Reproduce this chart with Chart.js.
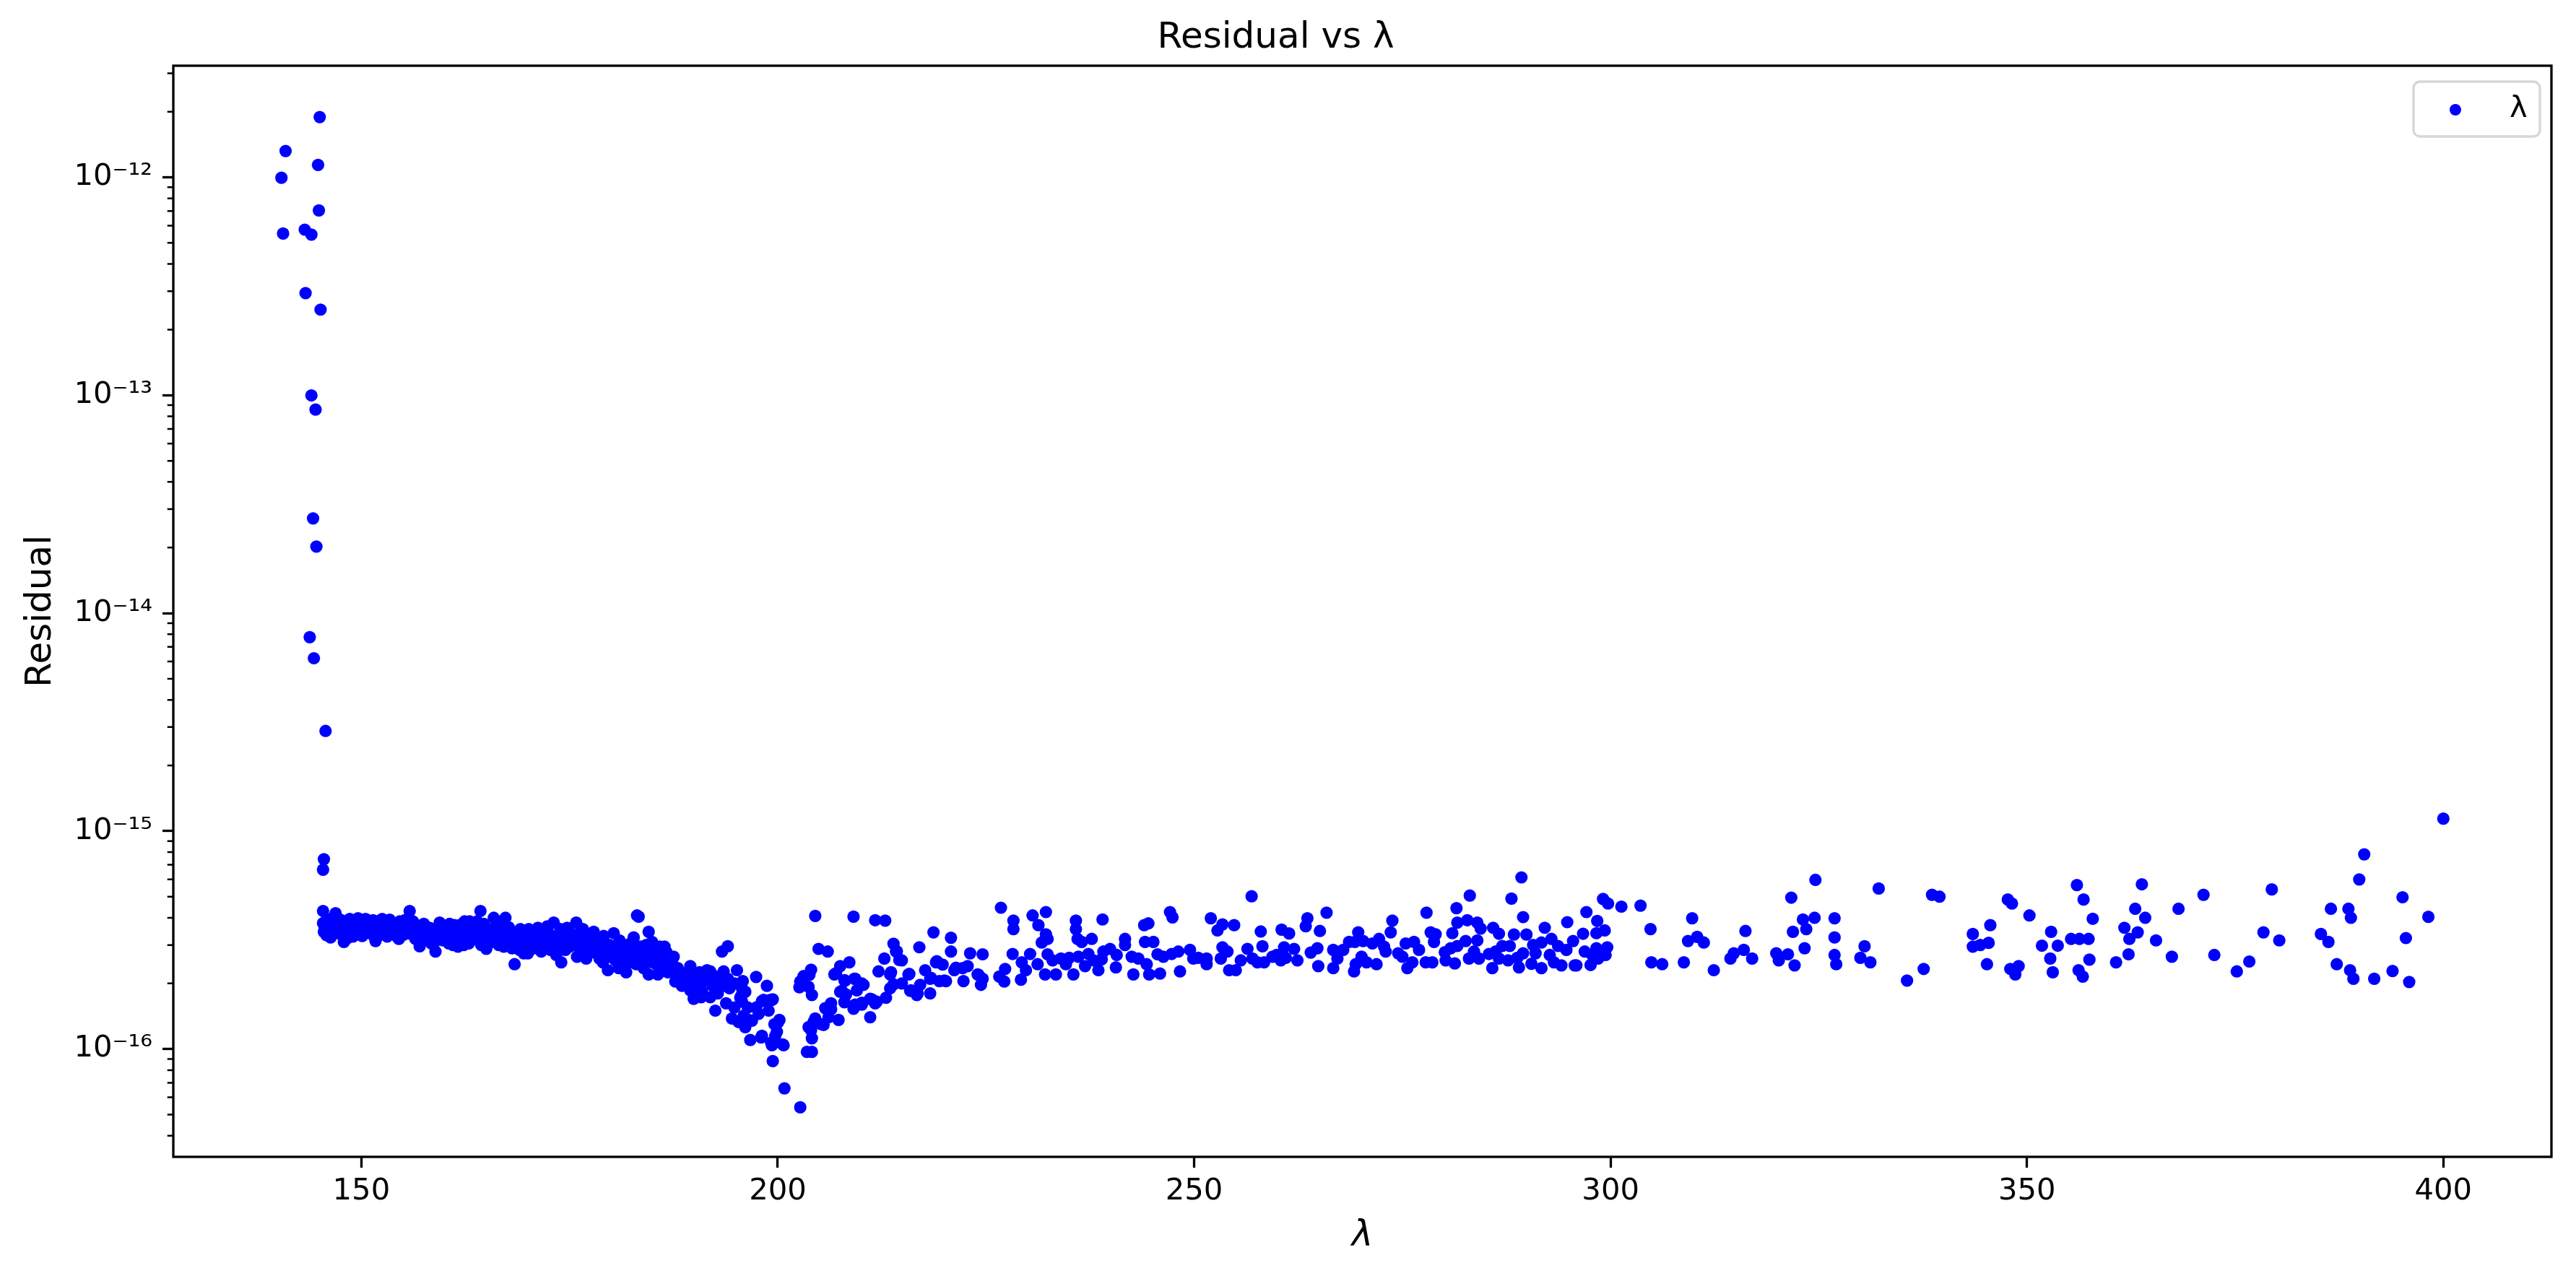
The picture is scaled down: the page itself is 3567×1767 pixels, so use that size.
<!DOCTYPE html>
<html>
<head>
<meta charset="utf-8">
<title>Residual vs λ</title>
<script src="https://cdn.jsdelivr.net/npm/chart.js@4.4.1/dist/chart.umd.min.js"></script>
<style>
  html, body { margin: 0; padding: 0; background: #fff; }
  #wrap { width: 3567px; height: 1767px; }
</style>
</head>
<body>
<div id="wrap"><canvas id="residualChart" width="3567" height="1767"></canvas></div>
<script>
// ---- data ----
// spike near the start, [lambda, residual]
const spikePoints = [
  [145.0, 1.89e-12], [140.9, 1.32e-12], [144.8, 1.14e-12], [140.4, 9.95e-13], [144.9, 7.05e-13],
  [140.6, 5.52e-13], [143.2, 5.75e-13], [144.0, 5.46e-13], [143.3, 2.94e-13], [145.1, 2.47e-13],
  [144.0, 9.98e-14], [144.5, 8.59e-14], [144.2, 2.72e-14], [144.6, 2.02e-14], [143.8, 7.76e-15],
  [144.3, 6.21e-15], [145.7, 2.88e-15], [145.5, 7.43e-16], [145.4, 6.65e-16]
];

// the band, residual given in units of 1e-16
const residualUnit = 1e-16;

const bandA = [ // 145 - 201
  [145.4,4.30],[145.4,3.78],[145.5,3.45],[145.6,3.60],[145.8,3.33],[146.0,3.70],[146.2,3.50],[146.4,3.85],[146.6,3.42],[146.9,4.20],
  [147.0,3.62],[147.2,3.75],[147.4,3.38],[147.6,3.90],[147.8,3.55],[147.9,3.10],[148.1,3.68],[148.3,3.22],[148.5,3.80],[148.7,3.48],
  [148.9,3.62],[149.1,3.90],[149.3,3.35],[149.5,3.72],[149.8,3.55],[150.0,3.85],[150.2,3.45],[150.4,3.68],[150.6,3.92],[150.8,3.50],
  [151.0,3.75],[151.2,3.60],[151.5,3.30],[151.7,3.13],[151.9,3.85],[152.1,3.55],[152.3,3.70],[152.6,3.42],[152.8,3.62],[153.0,3.80],
  [153.2,3.50],[153.5,3.38],[153.7,3.65],[153.9,3.72],[154.2,3.30],[154.4,3.55],[154.6,3.85],[154.8,3.45],[155.0,3.62],[155.2,3.90],
  [155.5,3.52],[155.8,4.30],[155.9,3.70],[156.1,3.35],[156.3,3.62],[156.5,3.20],[156.7,3.45],[157.0,2.96],[157.1,3.60],[157.3,3.40],
  [157.6,3.25],[157.9,3.50],[158.1,3.30],[158.4,3.05],[158.6,3.42],[158.9,2.80],[159.1,3.25],[159.3,3.55],[159.5,3.35],[159.8,3.15],
  [160.0,3.45],[160.2,3.60],[160.5,3.05],[160.7,3.30],[160.9,3.52],[161.2,3.70],[161.4,3.20],[161.6,2.95],[161.9,3.42],[162.1,3.75],
  [162.3,3.00],[162.6,3.55],[162.8,3.30],[163.0,3.85],[163.2,3.15],[163.5,3.65],[163.7,3.40],[164.0,3.50],[164.3,4.30],[164.5,3.25],
  [164.7,3.75],[165.0,2.88],[165.1,3.45],[165.4,3.55],[165.9,4.00],[166.0,3.20],[166.2,3.38],[166.5,3.00],[166.7,3.60],[167.0,3.25],
  [167.3,4.00],[167.4,3.45],[167.6,3.10],[167.9,3.30],[168.1,2.90],[168.4,2.45],[168.6,3.05],[168.8,3.35],[169.0,2.85],[169.3,3.20],
  [169.6,3.00],[169.8,3.30],[170.0,2.75],[170.3,3.10],[170.5,3.45],[170.7,2.90],[171.0,3.25],[171.2,3.60],[171.4,3.00],[171.7,3.30],
  [172.0,2.95],[172.2,3.15],[172.5,3.40],[172.7,2.85],[173.1,3.80],[173.2,3.05],[173.5,3.30],[173.7,2.90],[174.0,2.50],[174.2,3.15],
  [174.4,3.45],[174.7,3.60],[175.0,2.95],[175.3,3.20],[175.6,3.00],[175.8,3.80],[176.0,3.35],[176.3,2.80],[176.5,3.10],[176.8,2.95],
  [177.0,2.60],[177.2,3.20],[177.5,2.85],[177.8,3.05],[178.0,3.30],[178.3,2.75],[178.5,2.95],[178.8,3.15],[179.0,2.50],[179.3,2.80],
  [179.6,2.30],[179.8,3.00],[180.0,2.70],[180.3,3.40],[180.5,2.55],[180.8,2.90],[181.0,3.15],[181.3,2.65],[181.6,2.40],[181.8,2.25],
  [182.0,2.85],[182.3,3.05],[182.5,2.60],[182.8,2.75],[183.0,2.45],[183.1,4.10],[183.3,4.05],[183.5,2.95],[183.8,2.55],[184.0,2.70],
  [184.2,3.00],[184.5,3.45],[184.5,2.20],[184.8,2.85],[185.0,2.50],[185.3,2.75],[185.6,2.20],[185.8,2.95],[186.1,2.60],[186.3,2.40],
  [186.6,2.80],[186.9,2.50],[187.2,2.30],[187.5,2.65],[187.7,2.04],[188.1,2.20],[188.5,1.95],[188.8,2.15],[189.3,2.27],[189.7,1.90],
  [189.9,1.70],[190.2,2.05],[190.6,2.25],[190.9,1.85],[191.3,2.10],[191.9,2.27],[192.2,1.95],[192.5,1.50],[192.8,1.80],[193.3,2.80],
  [193.5,2.27],[193.8,1.62],[194.0,2.96],[194.2,1.90],[194.5,1.38],[194.8,1.55],[195.1,2.30],[195.3,1.33],[195.6,1.75],[195.9,1.42],
  [196.1,1.26],[196.4,1.55],[196.7,1.10],[196.9,1.35],[197.4,2.14],[197.7,1.45],[198.0,1.13],[198.3,1.68],[198.7,1.95],[198.9,1.50],
  [199.2,1.07],[199.3,1.68],[199.4,0.88],[199.6,1.30],[199.9,1.20],[200.2,1.36],[200.6,1.05],[200.8,0.66],
  // second pass over the thick part of the band
  [145.9,3.95],[146.3,3.25],[146.8,3.58],[147.3,3.95],[148.0,3.40],[148.6,3.95],[149.0,3.28],[149.6,3.98],[150.1,3.30],[150.5,3.95],
  [151.1,3.40],[151.4,3.90],[152.0,3.30],[152.5,3.95],[153.1,3.28],[153.4,3.92],[154.0,3.50],[154.5,3.20],[155.1,3.35],[155.7,3.80],
  [156.2,3.85],[156.9,3.15],[157.5,3.75],[158.2,3.60],[158.8,3.10],[159.4,3.80],[160.1,3.20],[160.6,3.75],[161.0,3.00],[161.8,3.62],
  [162.4,3.85],[162.9,3.05],[163.4,3.35],[163.9,3.85],[164.4,3.00],[165.2,3.30],[165.7,3.10],[166.4,3.75],[167.1,2.95],[167.7,3.62],
  [168.3,3.20],[169.1,3.55],[169.5,2.75],[170.1,3.55],[170.9,3.00],[171.6,2.80],[172.3,3.65],[172.9,3.20],[173.4,2.70],[173.9,3.55],
  [174.5,2.85],[175.1,3.40],[175.9,2.65],[176.6,3.55],[177.3,2.75],[177.9,3.45],[178.6,2.60],[179.1,3.30],[179.7,2.65],[180.2,2.95],
  [180.9,2.35],[181.5,3.00],[182.1,2.50],[182.7,3.25],[183.2,2.80],[183.9,2.35],[184.3,2.65],[184.9,3.10],[185.4,2.45],[185.9,2.70],
  [186.4,2.95],[186.8,2.25],[187.3,2.55],
  // the dip before 201
  [188.0,2.35],[188.9,2.05],[189.5,2.40],[190.0,2.15],[190.8,2.00],[191.5,2.30],[192.0,2.05],[192.8,2.15],[193.5,1.95],[194.0,2.10],
  [194.8,2.00],[195.8,2.05],[189.5,1.86],[190.8,1.73],[191.9,1.73],[195.5,1.72],[195.7,1.65],[196.1,1.83],[195.7,1.90],[196.0,1.33],
  [196.5,1.36],[197.4,1.55],[198.1,1.66],[199.1,1.68],[198.1,1.15],[199.4,1.69],[200.0,1.32],[199.7,1.15],[199.3,1.04],[200.7,1.04]
];

const bandB = [ // 202 - 264
  [202.7,0.54],[203.5,0.97],[204.1,0.97],[204.1,1.12],[204.0,1.22],[204.3,1.33],[203.7,1.26],[204.5,1.38],[205.5,1.29],[205.7,1.54],
  [206.4,1.62],[206.1,1.40],[207.3,1.36],[202.7,2.04],[203.1,2.16],[204.0,2.31],[203.7,1.93],[204.1,1.77],[204.9,2.88],[206.0,2.80],
  [204.5,4.08],[209.1,4.05],[211.7,3.90],[212.9,3.88],[206.8,2.20],[207.5,2.40],[208.6,2.50],[208.0,2.07],[207.5,1.83],[209.2,2.10],
  [210.1,2.00],[209.5,1.86],[208.0,1.64],[209.1,1.53],[210.1,1.60],[211.1,1.70],[211.7,1.62],[211.1,1.40],[213.0,1.72],[213.5,1.90],
  [213.9,1.98],[214.9,2.00],[212.1,2.27],[212.8,2.60],[213.5,2.20],[213.9,3.04],[214.2,2.80],[214.6,2.56],[215.7,2.20],[215.9,1.85],
  [216.7,1.77],[217.1,1.97],[218.3,1.80],[217.0,2.93],[217.7,2.30],[218.7,3.43],[219.0,2.50],[219.8,2.44],[218.3,2.10],[219.4,2.05],
  [220.2,2.05],[220.8,3.24],[220.8,2.80],[221.2,2.30],[222.2,2.35],[222.3,2.05],[223.1,2.75],[222.8,2.40],[224.0,2.20],[224.6,2.10],
  [224.4,1.97],[224.6,2.72],[226.8,4.45],[226.6,2.15],[227.3,2.33],[227.2,2.04],[228.3,3.88],[228.3,3.55],[228.2,2.73],[229.2,2.08],
  [229.3,2.50],[230.3,2.73],[229.8,2.30],[230.6,4.10],[232.2,4.25],[231.3,3.70],[232.2,3.36],[231.7,3.08],[232.4,3.20],[232.4,2.72],
  [232.1,2.20],[231.2,2.45],[233.4,2.20],[234.0,2.60],[234.6,2.45],[235.5,2.20],[235.8,3.88],[235.8,3.55],[236.0,3.20],[236.5,3.10],
  [237.7,3.20],[236.1,2.65],[237.3,2.73],[237.9,2.55],[239.0,3.93],[238.5,2.30],[239.1,2.80],[239.9,2.88],[240.6,2.37],[240.7,2.70],
  [241.7,3.20],[241.7,3.00],[242.5,2.65],[242.7,2.20],[244.0,3.70],[244.5,3.77],[244.1,3.10],[245.1,3.10],[244.3,2.45],[244.6,2.20],
  [245.9,2.22],[246.3,2.65],[247.3,2.73],[248.1,2.80],[247.1,4.25],[247.4,4.02],[248.3,2.27],[249.5,2.85],[249.9,2.60],[251.5,2.60],
  [251.5,2.45],[252.0,3.98],[252.8,3.50],[253.4,3.73],[254.8,3.70],[253.4,2.93],[254.0,2.80],[253.2,2.60],[254.2,2.30],[255.0,2.30],
  [255.6,2.55],[256.4,2.88],[256.9,5.02],[258.0,3.46],[258.2,2.96],[257.6,2.50],[258.4,2.50],[259.4,2.65],[260.4,2.55],[260.5,3.53],
  [261.4,3.39],[260.8,2.93],[262.0,2.88],[262.4,2.55],[263.4,3.66],[263.6,3.98],[264.0,2.77],[233.0,2.55],[235.0,2.62],[236.9,2.40],
  [238.9,2.58],[243.3,2.60],[245.6,2.72],[250.5,2.62],[257.0,2.60],[259.9,2.70],[261.0,2.62],
  // rising branch after the minimum
  [205.2,1.30],[206.4,1.52],[207.0,2.23],[207.7,1.85],[208.2,1.78],[209.3,1.60],[210.1,1.63],[211.3,1.69],[211.9,1.65],[209.3,2.10],
  [208.1,2.06],[210.3,1.97],[203.0,2.09],[202.6,1.92],[203.8,2.19],[213.6,2.25],[215.8,2.21],[216.0,1.86],[216.8,1.80],[214.3,2.81],
  [214.9,2.55],[218.4,2.12],[219.1,2.53],[220.0,2.06],[221.4,2.36],[224.1,2.19]
];

const bandC = [ // 264 - 327
  [265.9,4.22],[265.1,3.48],[264.8,2.90],[264.9,2.40],[266.7,2.35],[266.7,2.85],[267.9,2.85],[268.6,3.10],[269.3,3.10],[269.7,3.43],
  [270.3,3.13],[269.2,2.27],[269.4,2.45],[270.1,2.65],[270.7,2.50],[271.9,2.45],[271.4,3.05],[272.2,3.20],[273.6,3.43],[273.8,3.88],
  [273.0,2.80],[275.4,3.05],[275.6,2.35],[275.0,2.65],[276.4,3.10],[276.2,2.50],[277.9,4.22],[278.4,3.43],[279.0,3.36],[277.8,2.50],
  [278.6,2.50],[278.8,3.10],[280.1,2.78],[280.2,2.55],[281.3,2.47],[281.0,3.40],[281.6,3.80],[281.5,4.43],[282.8,3.90],[284.0,3.80],
  [284.4,3.57],[283.1,5.06],[281.6,2.97],[282.6,3.13],[284.0,3.15],[283.0,2.60],[284.2,2.60],[285.4,2.73],[285.9,3.60],[286.6,3.38],
  [285.8,2.35],[286.6,2.60],[287.7,2.55],[287.0,2.97],[287.9,2.97],[288.1,4.90],[289.3,6.13],[289.5,4.03],[288.4,3.35],[289.9,3.35],
  [289.0,2.37],[289.5,2.75],[290.5,2.46],[291.7,2.35],[290.7,3.00],[291.7,3.08],[292.1,3.60],[292.9,3.20],[293.7,2.97],[292.7,2.70],
  [294.8,3.82],[294.1,2.42],[295.7,2.42],[295.9,2.42],[294.7,2.85],[295.5,3.13],[296.7,3.38],[296.9,2.80],[298.3,2.90],[297.1,4.25],
  [297.6,2.43],[298.5,2.60],[298.4,3.87],[298.3,3.40],[299.3,3.50],[299.1,4.88],[299.7,4.65],[299.6,2.93],[299.4,2.70],[301.3,4.50],
  [303.6,4.55],[304.8,3.55],[304.9,2.50],[306.2,2.45],[308.8,2.50],[309.8,3.98],[309.3,3.13],[310.4,3.27],[311.2,3.08],[312.4,2.30],
  [314.4,2.60],[314.8,2.75],[316.0,2.85],[317.0,2.60],[316.2,3.48],[319.9,2.75],[320.2,2.55],[321.3,2.72],[322.1,2.42],[321.7,4.95],
  [321.9,3.45],[323.1,3.93],[323.5,3.55],[324.5,4.00],[323.3,2.90],[324.6,5.97],[267.2,2.60],[272.8,2.95],[274.5,2.75],[277.0,2.85],
  [280.8,2.90],[283.6,2.80],[286.2,2.80],[288.8,2.62],[291.0,2.75],[293.2,2.50],[297.8,2.70]
];

const bandD = [ // 327 - 400
  [326.9,3.98],[326.9,3.25],[326.9,2.70],[327.1,2.45],[330.5,2.96],[330.0,2.62],[331.2,2.50],[332.2,5.45],[335.6,2.06],[337.6,2.33],
  [338.6,5.10],[339.5,5.00],[343.5,3.37],[343.5,2.95],[344.4,3.00],[345.4,3.07],[345.6,3.70],[345.2,2.45],[347.7,4.85],[348.2,4.65],
  [350.3,4.10],[348.0,2.33],[349.0,2.40],[348.6,2.20],[351.8,2.98],[352.9,3.45],[353.7,2.98],[352.8,2.60],[353.1,2.25],[355.3,3.20],
  [356.3,3.20],[357.4,3.20],[356.0,5.65],[356.8,4.85],[357.9,3.96],[356.2,2.30],[356.7,2.15],[357.5,2.57],[360.7,2.50],[361.7,3.60],
  [362.3,3.20],[363.3,3.43],[362.2,2.72],[363.0,4.40],[364.2,4.00],[363.8,5.70],[365.5,3.15],[367.4,2.65],[368.2,4.40],[371.2,5.10],
  [372.5,2.70],[375.2,2.27],[376.7,2.52],[378.4,3.43],[379.4,5.40],[380.3,3.15],[385.3,3.37],[386.2,3.10],[386.5,4.40],[387.2,2.45],
  [388.6,4.40],[388.9,4.00],[388.8,2.30],[389.2,2.10],[389.9,6.00],[390.5,7.82],[391.7,2.10],[393.9,2.28],[395.1,4.97],[395.5,3.23],
  [395.9,2.03],[398.2,4.04],[400.0,11.40]
];

const xTicks = [150, 200, 250, 300, 350, 400];
const yTicks = [1e-16, 1e-15, 1e-14, 1e-13, 1e-12];
const xRange = [127.42, 412.98];
const yRange = [3.2e-17, 3.25e-12];

// ---- build the dataset ----
const scatterData = spikePoints.map(([x, y]) => ({x: x, y: y}))
  .concat([bandA, bandB, bandC, bandD].flat().map(([x, r]) => ({x: x, y: r * residualUnit})));

const supDigits = {'-': '\u207B', '0': '\u2070', '1': '\u00B9', '2': '\u00B2', '3': '\u00B3',
  '4': '\u2074', '5': '\u2075', '6': '\u2076', '7': '\u2077', '8': '\u2078', '9': '\u2079'};
function powerLabel(v) {
  const e = Math.round(Math.log10(v));
  return '10' + String(e).split('').map(c => supDigits[c]).join('');
}

const FONT = 'DejaVu Sans';
Chart.defaults.font.family = FONT;
Chart.defaults.color = '#000';

// axes box, minor log ticks and the framed legend, drawn the matplotlib way
const mplExtras = {
  id: 'mplExtras',
  afterDraw(chart) {
    const {ctx, chartArea: a} = chart;
    const y = chart.scales.y;
    ctx.save();

    // minor ticks on the log axis
    ctx.strokeStyle = '#000';
    ctx.lineWidth = 2.5;
    ctx.beginPath();
    for (let e = -17; e <= -12; e++) {
      for (let k = 2; k <= 9; k++) {
        const v = k * Math.pow(10, e);
        if (v < y.min || v > y.max) continue;
        const py = y.getPixelForValue(v);
        ctx.moveTo(a.left - 8.3, py);
        ctx.lineTo(a.left, py);
      }
    }
    ctx.stroke();

    // spines
    ctx.lineWidth = 3.3;
    ctx.strokeRect(a.left, a.top, a.right - a.left, a.bottom - a.top);

    // legend
    const w = 175, h = 76;
    const lx = a.right - 16 - w, ly = a.top + 22;
    ctx.beginPath();
    if (ctx.roundRect) ctx.roundRect(lx, ly, w, h, 9); else ctx.rect(lx, ly, w, h);
    ctx.fillStyle = 'rgba(255,255,255,0.8)';
    ctx.fill();
    ctx.strokeStyle = 'rgba(204,204,204,0.8)';
    ctx.lineWidth = 3.3;
    ctx.stroke();

    const ds = chart.data.datasets[0];
    ctx.beginPath();
    ctx.arc(lx + 58, ly + h / 2 + 1, 8, 0, Math.PI * 2);
    ctx.fillStyle = ds.backgroundColor;
    ctx.fill();

    ctx.fillStyle = '#000';
    ctx.font = '41.7px "' + FONT + '"';
    ctx.textAlign = 'left';
    ctx.textBaseline = 'middle';
    ctx.fillText(ds.label, lx + 133, ly + h / 2);

    ctx.restore();
  }
};

const ctx = document.getElementById('residualChart').getContext('2d');
const residualChart = new Chart(ctx, {
  type: 'scatter',
  data: {
    datasets: [{
      label: 'λ',
      data: scatterData,
      backgroundColor: '#0000ff',
      borderWidth: 0,
      pointRadius: 8.6,
      pointHoverRadius: 8.6
    }]
  },
  options: {
    responsive: false,
    maintainAspectRatio: false,
    devicePixelRatio: 1,
    animation: false,
    events: [],
    layout: { padding: { left: 0, right: 34, top: 0, bottom: 0 } },
    plugins: {
      legend: { display: false },
      tooltip: { enabled: false },
      title: {
        display: true,
        text: 'Residual vs λ',
        color: '#000',
        font: { size: 50, weight: 'normal' },
        padding: { top: 23, bottom: 8 }
      }
    },
    scales: {
      x: {
        type: 'linear',
        min: xRange[0],
        max: xRange[1],
        afterBuildTicks: scale => { scale.ticks = xTicks.map(v => ({value: v})); },
        afterFit: scale => { scale.height = 165; },
        ticks: { includeBounds: false, font: { size: 41.7 }, color: '#000', padding: 8, maxRotation: 0 },
        grid: { display: true, drawOnChartArea: false, drawTicks: true, tickLength: 15, tickWidth: 3.3, tickColor: '#000' },
        border: { display: false },
        title: { display: true, text: 'λ', color: '#000', font: { size: 50, style: 'italic' }, padding: { top: 0, bottom: 25 } }
      },
      y: {
        type: 'logarithmic',
        min: yRange[0],
        max: yRange[1],
        afterBuildTicks: scale => { scale.ticks = yTicks.map(v => ({value: v})); },
        afterFit: scale => { scale.width = 240; },
        ticks: { font: { size: 41.7 }, color: '#000', padding: 14, callback: v => powerLabel(v) },
        grid: { display: true, drawOnChartArea: false, drawTicks: true, tickLength: 15, tickWidth: 3.3, tickColor: '#000' },
        border: { display: false },
        title: { display: true, text: 'Residual', color: '#000', font: { size: 50 }, padding: { top: 27, bottom: 0 } }
      }
    }
  },
  plugins: [mplExtras]
});
</script>
</body>
</html>
